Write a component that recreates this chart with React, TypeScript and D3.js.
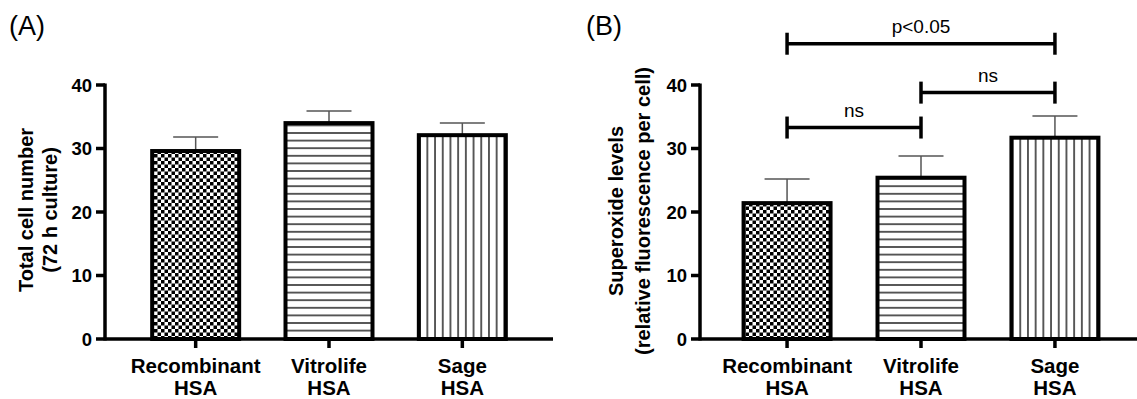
import React from "react";
import * as d3 from "d3";

const categories = ["Recombinant HSA", "Vitrolife HSA", "Sage HSA"];
const catLine1 = ["Recombinant", "Vitrolife", "Sage"];
const catLine2 = ["HSA", "HSA", "HSA"];
const patterns = ["checker", "hstripe", "vstripe"];

const cellMeans = [29.6, 34.0, 32.1];
const cellErr = [2.2, 1.9, 1.9];

const superoxideMeans = [21.4, 25.4, 31.7];
const superoxideErr = [3.8, 3.4, 3.4];

const yTicks = [0, 10, 20, 30, 40];

const comparisons = [
  { from: 0, to: 2, level: 46.5, label: "p<0.05" },
  { from: 1, to: 2, level: 38.8, label: "ns" },
  { from: 0, to: 1, level: 33.3, label: "ns" },
];

const FONT = "'Liberation Sans', Arial, sans-serif";

function Panel({
  axisX,
  axisEnd,
  pad,
  means,
  errs,
  letter,
  letterX,
  yLabel1,
  yLabel2,
  yl1x,
  yl2x,
  ylCenter,
  ylSize,
  comps,
}: any) {
  const y = d3.scaleLinear().domain([0, 40]).range([339, 85]);
  const x = d3.scalePoint<string>().domain(categories).range([axisX, axisEnd]).padding(pad);
  const bw = 87;
  const capW = 45;
  return (
    <g>
      <text x={letterX} y={35} fontFamily={FONT} fontSize={27}>
        {letter}
      </text>
      <text
        transform={`translate(${yl1x},${ylCenter}) rotate(-90)`}
        textAnchor="middle"
        fontFamily={FONT}
        fontWeight="bold"
        fontSize={ylSize}
      >
        {yLabel1}
      </text>
      <text
        transform={`translate(${yl2x},${ylCenter}) rotate(-90)`}
        textAnchor="middle"
        fontFamily={FONT}
        fontWeight="bold"
        fontSize={ylSize}
      >
        {yLabel2}
      </text>
      {categories.map((c, i) => {
        const cx = x(c)!;
        const top = y(means[i]);
        const et = y(means[i] + errs[i]);
        return (
          <g key={c}>
            <line x1={cx} x2={cx} y1={top} y2={et} stroke="#555" strokeWidth={1.5} />
            <line x1={cx - capW / 2} x2={cx + capW / 2} y1={et} y2={et} stroke="#555" strokeWidth={1.5} />
            <rect
              x={cx - bw / 2}
              y={top}
              width={bw}
              height={y(0) - top}
              fill={`url(#${patterns[i]})`}
              stroke="#000"
              strokeWidth={4}
            />
          </g>
        );
      })}
      <line x1={axisX} x2={axisX} y1={y(40) - 1.5} y2={y(0) + 1.5} stroke="#000" strokeWidth={3.5} />
      <line x1={axisX} x2={axisEnd} y1={y(0)} y2={y(0)} stroke="#000" strokeWidth={3.5} />
      {yTicks.map((t) => (
        <g key={t}>
          <line x1={axisX - 9} x2={axisX} y1={y(t)} y2={y(t)} stroke="#000" strokeWidth={3.5} />
          <text
            x={axisX - 13}
            y={y(t)}
            dy="0.36em"
            textAnchor="end"
            fontFamily={FONT}
            fontWeight="bold"
            fontSize={18.5}
          >
            {t}
          </text>
        </g>
      ))}
      {categories.map((c, i) => {
        const cx = x(c)!;
        return (
          <g key={c}>
            <line x1={cx} x2={cx} y1={y(0)} y2={y(0) + 9} stroke="#000" strokeWidth={3.5} />
            <text x={cx} y={373} textAnchor="middle" fontFamily={FONT} fontWeight="bold" fontSize={20.5}>
              {catLine1[i]}
            </text>
            <text x={cx} y={395} textAnchor="middle" fontFamily={FONT} fontWeight="bold" fontSize={20.5}>
              {catLine2[i]}
            </text>
          </g>
        );
      })}
      {comps &&
        comps.map((cp: any, k: number) => {
          const x1 = x(categories[cp.from])!;
          const x2 = x(categories[cp.to])!;
          const yy = y(cp.level);
          return (
            <g key={k}>
              <line x1={x1} x2={x2} y1={yy} y2={yy} stroke="#000" strokeWidth={3.5} />
              <line x1={x1} x2={x1} y1={yy - 11} y2={yy + 11} stroke="#000" strokeWidth={3.5} />
              <line x1={x2} x2={x2} y1={yy - 11} y2={yy + 11} stroke="#000" strokeWidth={3.5} />
              <text
                x={(x1 + x2) / 2}
                y={yy - 11}
                textAnchor="middle"
                fontFamily={FONT}
                fontSize={19}
              >
                {cp.label}
              </text>
            </g>
          );
        })}
    </g>
  );
}

export default function App() {
  return (
    <svg
      width={1137}
      height={399}
      style={{ position: "absolute", left: 0, top: 0, background: "#fff" }}
    >
      <defs>
        <pattern id="checker" width={7} height={7} patternUnits="userSpaceOnUse">
          <rect width={7} height={7} fill="#fff" />
          <rect width={3.5} height={3.5} fill="#000" />
          <rect x={3.5} y={3.5} width={3.5} height={3.5} fill="#000" />
        </pattern>
        <pattern id="hstripe" width={10} height={7.6} patternUnits="userSpaceOnUse">
          <rect width={10} height={7.6} fill="#fff" />
          <line x1={0} x2={10} y1={3.8} y2={3.8} stroke="#333" strokeWidth={1.6} />
        </pattern>
        <pattern id="vstripe" width={7.7} height={10} patternUnits="userSpaceOnUse">
          <rect width={7.7} height={10} fill="#fff" />
          <line x1={3.85} x2={3.85} y1={0} y2={10} stroke="#333" strokeWidth={1.6} />
        </pattern>
      </defs>
      <rect width={1137} height={399} fill="#fff" />
      <Panel
        axisX={105}
        axisEnd={553}
        pad={0.68}
        means={cellMeans}
        errs={cellErr}
        letter="(A)"
        letterX={9}
        yLabel1="Total cell number"
        yLabel2="(72 h culture)"
        yl1x={33}
        yl2x={57}
        ylCenter={210}
        ylSize={20}
      />
      <Panel
        axisX={700}
        axisEnd={1142}
        pad={0.65}
        means={superoxideMeans}
        errs={superoxideErr}
        letter="(B)"
        letterX={586}
        yLabel1="Superoxide levels"
        yLabel2="(relative fluorescence per cell)"
        yl1x={623}
        yl2x={650}
        ylCenter={211}
        ylSize={20}
        comps={comparisons}
      />
    </svg>
  );
}
